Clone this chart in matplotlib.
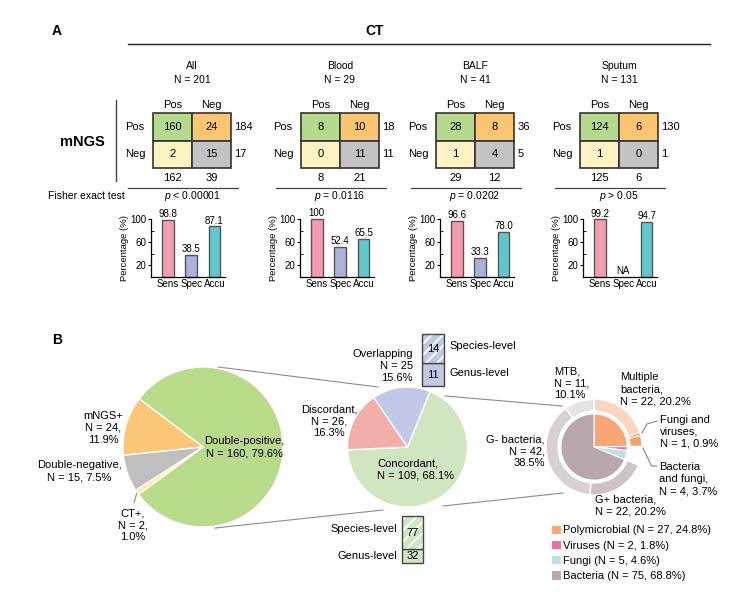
import numpy as np
import matplotlib
matplotlib.use("Agg")
import matplotlib.pyplot as plt
from matplotlib.patches import Rectangle

plt.rcParams['font.family'] = ['Liberation Sans', 'DejaVu Sans']
plt.rcParams['mathtext.fontset'] = 'custom'
plt.rcParams['mathtext.rm'] = 'Liberation Sans'
plt.rcParams['mathtext.it'] = 'Liberation Sans:italic'
plt.rcParams['hatch.linewidth'] = 1.3

W, H = 744, 592

# ---------------------------------------------------------------------------
# Panel A data: mNGS (rows) vs CT (columns)
# ---------------------------------------------------------------------------
groups = ["All", "Blood", "BALF", "Sputum"]
group_n = [201, 29, 41, 131]
tp = [160, 8, 28, 124]     # mNGS+ / CT+
fp = [24, 10, 8, 6]        # mNGS+ / CT-
fn = [2, 0, 1, 1]          # mNGS- / CT+
tn = [15, 11, 4, 0]        # mNGS- / CT-
p_text = [r"$\it{p}$ < 0.00001", r"$\it{p}$ = 0.0116",
          r"$\it{p}$ = 0.0202", r"$\it{p}$ > 0.05"]
metric_names = ["Sens", "Spec", "Accu"]
sens = [98.8, 100, 96.6, 99.2]
spec = [38.5, 52.4, 33.3, None]
accu = [87.1, 65.5, 78.0, 94.7]

# ---------------------------------------------------------------------------
# Panel B data
# ---------------------------------------------------------------------------
overall_n = [160, 24, 15, 2]          # double-pos, mNGS+, double-neg, CT+
overall_colors = ["#b9dc8b", "#fcc677", "#bfbfbf", "#fbefa5"]

dp_n = [109, 26, 25]                  # concordant, discordant, overlapping
dp_colors = ["#cfe6c0", "#f2aea8", "#c1c9e7"]

overlap_levels = ["Genus-level", "Species-level"]
overlap_n = [11, 14]
concord_levels = ["Genus-level", "Species-level"]
concord_n = [32, 77]

conc_labels = ["Polymicrobial (N = 27, 24.8%)", "Viruses (N = 2, 1.8%)",
               "Fungi (N = 5, 4.6%)", "Bacteria (N = 75, 68.8%)"]
conc_n = [27, 2, 5, 75]
conc_colors = ["#f8a675", "#ee6f9c", "#b6e2e6", "#b8a8ad"]

# outer ring: multiple bacteria, fungi+viruses, bacteria+fungi, (viruses, fungi), G+, G-, MTB
ring_n = [22, 1, 4, 2, 5, 22, 42, 11]
ring_colors = ["#fbd5c0", "#f07f3c", "#f7a26c", "none", "none",
               "#cdc2c5", "#d9d0d3", "#e7e3e4"]

fig = plt.figure(figsize=(W / 100, H / 100), dpi=100)
base = fig.add_axes([0, 0, 1, 1])
base.set_xlim(0, W)
base.set_ylim(H, 0)
base.axis('off')

# overlay for all free text, above every other axes
over = fig.add_axes([0, 0, 1, 1])
over.set_xlim(0, W)
over.set_ylim(H, 0)
over.axis('off')
over.set_zorder(10)


def px_axes(x, y, w, h):
    return fig.add_axes([x / W, 1 - (y + h) / H, w / W, h / H])


def txt(x, y, s, **kw):
    kw.setdefault('fontsize', 8)
    kw.setdefault('ha', 'center')
    kw.setdefault('va', 'center')
    kw.setdefault('linespacing', 1.25)
    over.text(x, y, s, **kw)


# ---------------------------------------------------------------------------
# Panel A
# ---------------------------------------------------------------------------
txt(57, 31, "A", fontsize=10, fontweight='bold')
txt(375, 31, "CT", fontsize=10, fontweight='bold')
base.plot([128, 710], [44, 44], color='#222222', lw=1)
txt(82, 142, "mNGS", fontsize=10.5, fontweight='bold')
base.plot([116, 116], [100, 181], color='#444444', lw=1)
txt(48, 196, "Fisher exact test", fontsize=7.5, ha='left')

table_left = [153, 301, 436, 580]
bar_left = [151, 300, 440, 583]
cell_w, cell_h, top = 39, 27.5, 113
cell_colors = [["#b6da8c", "#fbc572"], ["#fef3c3", "#c3c3c3"]]
bar_colors = ["#f59db0", "#aab2dc", "#5fc8cf"]

for k in range(len(groups)):
    x0 = table_left[k]
    cx = x0 + cell_w
    m = np.array([[tp[k], fp[k]], [fn[k], tn[k]]])

    txt(cx, 66, groups[k], fontsize=7.5)
    txt(cx, 80, f"N = {group_n[k]}", fontsize=7.5)

    ax = px_axes(x0, top, 2 * cell_w, 2 * cell_h)
    ax.set_xlim(0, 2)
    ax.set_ylim(2, 0)
    ax.axis('off')
    for i in range(2):
        for j in range(2):
            ax.add_patch(Rectangle((j, i), 1, 1, facecolor=cell_colors[i][j],
                                   edgecolor='#333333', lw=1.2, clip_on=False))
            ax.text(j + 0.5, i + 0.5, str(m[i, j]), ha='center', va='center',
                    fontsize=8)
        ax.text(2.08, i + 0.5, str(m[i].sum()), ha='left', va='center', fontsize=8)
        ax.text(i + 0.5, 2.36, str(m[:, i].sum()), ha='center', va='center', fontsize=8)
    for j, lab in enumerate(["Pos", "Neg"]):
        ax.text(j + 0.5, -0.29, lab, ha='center', va='center', fontsize=8)
        ax.text(-0.46, j + 0.5, lab, ha='center', va='center', fontsize=8)

    base.plot([x0 - 25, x0 + 2 * cell_w + 7], [188, 188], color='#444444', lw=0.9)
    txt(cx, 196, p_text[k], fontsize=7.5)

    # sensitivity / specificity / accuracy bars
    bx = px_axes(bar_left[k], 219, 74, 58)
    vals = [sens[k], spec[k], accu[k]]
    for xi, v in enumerate(vals):
        if v is None:
            bx.text(xi, 1, "NA", ha='center', va='bottom', fontsize=7)
            continue
        bx.bar(xi, v, width=0.5, color=bar_colors[xi], edgecolor='#555555',
               lw=1, clip_on=False)
        lab = "100" if v == 100 else f"{v:.1f}"
        bx.text(xi, v + 1, lab, ha='center', va='bottom', fontsize=7)
    bx.set_xlim(-0.72, 2.45)
    bx.set_ylim(0, 100)
    bx.set_xticks(range(3))
    bx.set_xticklabels(metric_names)
    bx.set_yticks([20, 60, 100])
    bx.set_yticks([40, 80], minor=True)
    bx.tick_params(axis='both', labelsize=7, length=2.5, pad=1, width=0.8)
    bx.tick_params(axis='x', length=0, pad=1.5)
    bx.tick_params(axis='y', which='minor', length=2.5, direction='in')
    bx.set_ylabel("Percentage (%)", fontsize=6.8, labelpad=1)
    for s in ['top', 'right']:
        bx.spines[s].set_visible(False)
    for s in ['left', 'bottom']:
        bx.spines[s].set_linewidth(0.9)

# ---------------------------------------------------------------------------
# Panel B
# ---------------------------------------------------------------------------
txt(57, 340, "B", fontsize=10, fontweight='bold')


def pie_axes(cx, cy, r, pad=1.1):
    return px_axes(cx - r * pad, cy - r * pad, 2 * r * pad, 2 * r * pad)


# zoom connector lines (drawn behind the pies)
line_kw = dict(color='#8c8c8c', lw=0.8)
base.plot([218, 378], [367, 387], **line_kw)
base.plot([215, 383], [528, 510], **line_kw)
base.plot([445, 562], [396, 406], **line_kw)
base.plot([443, 563], [506, 493], **line_kw)

# overall pie
pad = 1.1
ax1 = pie_axes(203, 447, 80, pad)
ax1.pie(overall_n, colors=overall_colors, startangle=216.4, counterclock=True,
        wedgeprops=dict(edgecolor='white', linewidth=1))
ax1.set_xlim(-pad, pad)
ax1.set_ylim(-pad, pad)

txt(244, 447, "Double-positive,\nN = 160, 79.6%")
txt(103, 428, "mNGS+\nN = 24,\n11.9%")
txt(79, 471, "Double-negative,\nN = 15, 7.5%")
txt(133, 525, "CT+,\nN = 2,\n1.0%")
base.plot([137, 134], [492, 503], color='#8c8c8c', lw=0.8)

# double-positive breakdown pie
ax2 = pie_axes(407.5, 447, 60, pad)
ax2.pie(dp_n, colors=dp_colors, startangle=68, counterclock=False,
        wedgeprops=dict(edgecolor='white', linewidth=1))
ax2.set_xlim(-pad, pad)
ax2.set_ylim(-pad, pad)

txt(413, 366, "Overlapping\nN = 25\n15.6%", ha='right', multialignment='right')
txt(329, 421, "Discordant,\nN = 26,\n16.3%")
txt(377, 469, "Concordant,\nN = 109, 68.1%", ha='left', multialignment='left')


def level_stack(ax, levels, counts, color):
    bottom = 0
    for lev, n in zip(levels, counts):
        hatched = lev.startswith("Species")
        ax.bar(0, n, bottom=bottom, width=1, color=color, lw=0,
               hatch='///' if hatched else None, edgecolor='white')
        ax.bar(0, n, bottom=bottom, width=1, fill=False, edgecolor='#444444',
               lw=1, clip_on=False)
        ax.text(0, bottom + n / 2, str(n), ha='center', va='center', fontsize=8)
        bottom += n
    ax.set_xlim(-0.5, 0.5)
    ax.set_ylim(0, sum(counts))
    ax.axis('off')


ax3 = px_axes(422, 334, 22, 52)
level_stack(ax3, overlap_levels, overlap_n, "#c1c9e7")
txt(449, 346, "Species-level", ha='left')
txt(449, 373, "Genus-level", ha='left')

ax4 = px_axes(402, 516, 21, 47)
level_stack(ax4, concord_levels, concord_n, "#cfe6c0")
txt(397, 529, "Species-level", ha='right')
txt(397, 556, "Genus-level", ha='right')

# concordant composition donut
R = 48
ax5 = pie_axes(594, 447, R, pad)
ax5.pie(ring_n, colors=ring_colors, radius=1.0, startangle=90, counterclock=False,
        wedgeprops=dict(width=0.25, edgecolor='white', linewidth=1))
for w in ax5.patches:
    if w.get_facecolor()[3] == 0:
        w.set_edgecolor('none')
inner = ax5.pie(conc_n, colors=conc_colors, radius=0.69, startangle=90,
                counterclock=False, wedgeprops=dict(edgecolor='white', linewidth=0.8))
ax5.set_xlim(-pad, pad)
ax5.set_ylim(-pad, pad)

left_kw = dict(ha='left', multialignment='left')
txt(554, 383, "MTB,\nN = 11,\n10.1%", **left_kw)
txt(620, 389, "Multiple\nbacteria,\nN = 22, 20.2%", **left_kw)
txt(660, 432, "Fungi and\nviruses,\nN = 1, 0.9%", **left_kw)
txt(659, 479, "Bacteria\nand fungi,\nN = 4, 3.7%", **left_kw)
txt(595, 506, "G+ bacteria,\nN = 22, 20.2%", **left_kw)
txt(545, 451, "G- bacteria,\nN = 42,\n38.5%", ha='right', multialignment='right')
base.plot([642, 647, 657], [433, 424, 421], color='#777777', lw=0.7)
base.plot([643, 651.5, 657], [448, 466, 466], color='#777777', lw=0.7)

over.legend(inner[0], conc_labels, loc='upper left', bbox_to_anchor=(551, 525),
            bbox_transform=over.transData, frameon=False, fontsize=8,
            handlelength=0.9, handleheight=0.9, handletextpad=0.2,
            labelspacing=0.42, borderpad=0, borderaxespad=0)

fig.savefig("out.png", dpi=100, facecolor='white')
